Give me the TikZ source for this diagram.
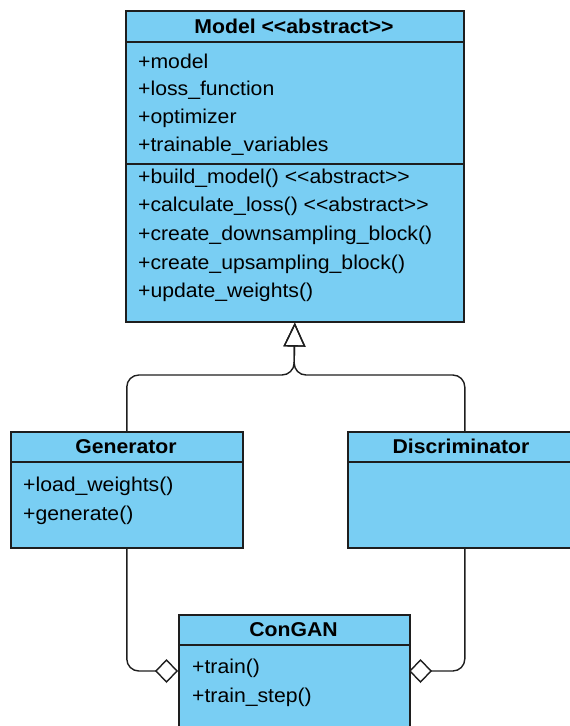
\documentclass[tikz,border=0pt]{standalone}
\usepackage{fontspec}
\setmainfont{Liberation Sans}[FakeStretch=1.06, Ligatures=NoCommon]
\usetikzlibrary{arrows.meta,calc}
\definecolor{clsfill}{RGB}{121,206,243}
\definecolor{clsline}{RGB}{30,30,30}
\newcommand{\stereo}[1]{{<}{<}#1{>}{>}}
\tikzset{
  cls/.style={draw=clsline, line width=1.6pt, fill=clsfill, rectangle, inner sep=0pt, anchor=north west},
  sep/.style={draw=clsline, line width=1.4pt},
  title/.style={font=\fontsize{20}{24}\selectfont\bfseries, inner sep=0pt},
  member/.style={font=\fontsize{20}{24}\selectfont, anchor=west, inner sep=0pt},
  inherit/.style={draw=clsline, line width=1.4pt, rounded corners=12pt, -{Triangle[open, length=24pt, width=22pt, line width=1.4pt]}},
  aggr/.style={draw=clsline, line width=1.4pt, rounded corners=12pt, -{Diamond[open, length=23pt, width=24pt, line width=1.4pt]}}
}
\begin{document}
\begin{tikzpicture}[x=1pt, y=-1pt]
\useasboundingbox (0,0) rectangle (570,726);
\begin{scope}
\clip (0,0) rectangle (570,726);

% abstract base class
\node[cls, minimum width=338pt, minimum height=311pt] (model) at (125,10) {};
\draw[sep] (125,42) -- (463,42);
\draw[sep] (125,164) -- (463,164);
\node[title] (model-t) at (294,26) {Model \stereo{abstract}};
\node[member] (m1) at (138,61) {+model};
\node[member] (m2) at (138,90) {+loss\_function};
\node[member] (m3) at (138,118) {+optimizer};
\node[member] (m4) at (138,146) {+trainable\_variables};
\node[member] (m5) at (138,178) {+build\_model() \stereo{abstract}};
\node[member] (m6) at (138,206) {+calculate\_loss() \stereo{abstract}};
\node[member] (m7) at (138,235) {+create\_downsampling\_block()};
\node[member] (m8) at (138,264) {+create\_upsampling\_block()};
\node[member] (m9) at (138,292) {+update\_weights()};

% generator
\node[cls, minimum width=232pt, minimum height=116pt] (gen) at (10,431) {};
\draw[sep] (10,462) -- (242,462);
\node[title] (gen-t) at (126,446.5) {Generator};
\node[member] (g1) at (23,486) {+load\_weights()};
\node[member] (g2) at (23,515) {+generate()};

% discriminator
\node[cls, minimum width=234pt, minimum height=116pt] (disc) at (347,431) {};
\draw[sep] (347,462) -- (581,462);
\node[title] (disc-t) at (461,446.5) {Discriminator};

% GAN wrapper
\node[cls, minimum width=231pt, minimum height=130pt] (gan) at (178,614) {};
\draw[sep] (178,645) -- (409,645);
\node[title] (gan-t) at (293.5,629.5) {ConGAN};
\node[member] (c1) at (192,668) {+train()};
\node[member] (c2) at (192,697) {+train\_step()};

% connectors
\coordinate (split) at (294,375);
\coordinate (ganL) at (178,671);
\coordinate (ganR) at (409,671);
\draw[inherit] (gen.north) |- (split) -- (model.south);
\draw[inherit] (disc.north) |- (split) -- (model.south);
\draw[aggr] (gen.south) |- (ganL);
\draw[aggr] (disc.south) |- (ganR);
\end{scope}
\end{tikzpicture}
\end{document}
